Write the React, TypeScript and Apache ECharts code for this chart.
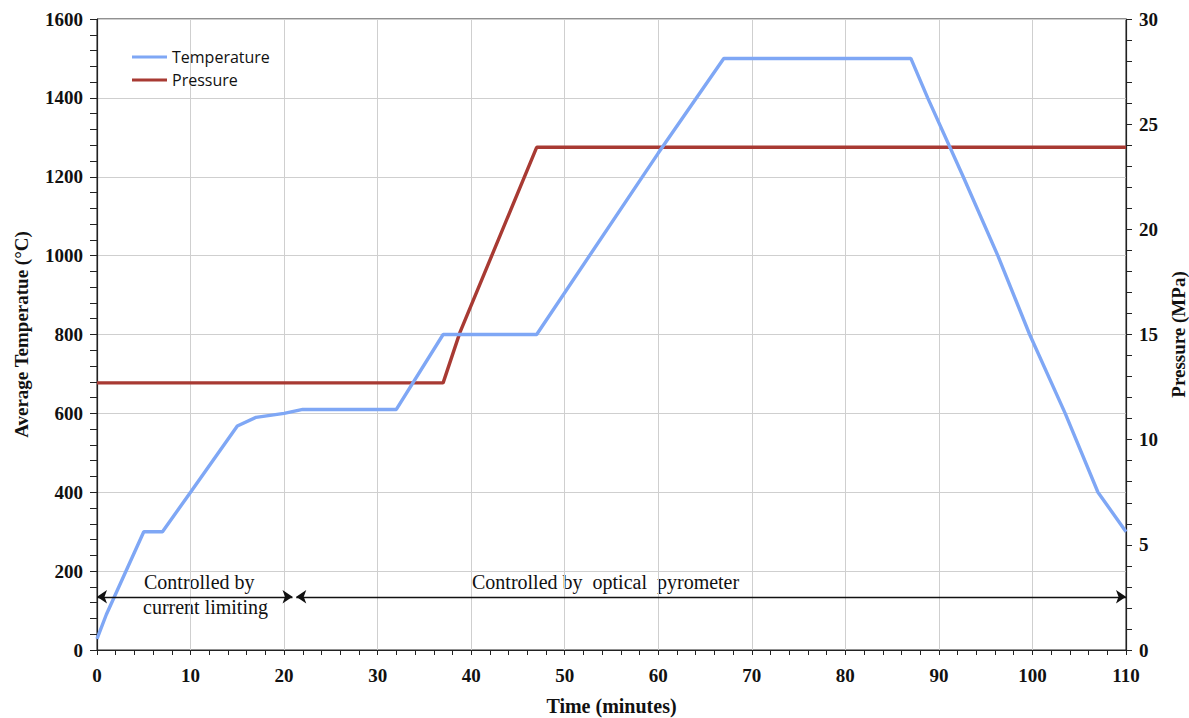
import React, { useEffect, useRef } from "react";
import * as echarts from "echarts";

// Temperature profile (minutes, °C)
const tempTime = [0, 1, 5, 7, 10, 15, 17, 20, 22, 32, 37, 47, 60, 67, 87, 88.8, 92.6, 96.3, 99.7, 103.5, 107, 110];
const tempValues = [28, 90, 300, 300, 400, 568, 590, 600, 610, 610, 800, 800, 1260, 1500, 1500, 1400, 1200, 1000, 800, 600, 400, 300];

// Pressure profile (minutes, MPa)
const pressureTime = [0, 37, 38.8, 47, 110];
const pressureValues = [12.7, 12.7, 15.1, 23.9, 23.9];

// Control-mode spans (minutes) drawn as arrows at this temperature level
const arrowLevel = 135;
const currentLimitingSpan = [0, 20.9];
const pyrometerSpan = [21.3, 110];

const seriesNames = ["Temperature", "Pressure"];
const annotationTexts = ["Controlled by", "current limiting", "Controlled by  optical  pyrometer"];

const SERIF = "'Liberation Serif', 'Times New Roman', serif";

export default function App() {
  const ref = useRef<HTMLDivElement>(null);
  useEffect(() => {
    document.body.style.margin = "0";
    const chart = echarts.init(ref.current!, null, { renderer: "svg" });
    const tickLabel = { fontFamily: SERIF, fontWeight: "bold", fontSize: 19, color: "#111" };
    const axisName = { fontFamily: SERIF, fontWeight: "bold", fontSize: 19, color: "#111" };
    chart.setOption({
      animation: false,
      backgroundColor: "#fff",
      grid: {
        left: 97,
        right: 63,
        top: 19,
        bottom: 68,
        show: true,
        borderColor: "#222",
        borderWidth: 1,
        containLabel: false,
        outerBoundsMode: "none",
      },
      legend: {
        left: 127,
        top: 44,
        orient: "vertical",
        icon: "rect",
        itemWidth: 35,
        itemHeight: 3,
        itemGap: 7,
        data: seriesNames,
        textStyle: { fontFamily: "'Open Sans', sans-serif", fontSize: 16, color: "#111", padding: [0, 0, 0, 0] },
      },
      xAxis: {
        type: "value",
        min: 0,
        max: 110,
        interval: 10,
        name: "Time (minutes)",
        nameLocation: "middle",
        nameGap: 46,
        nameTextStyle: { ...axisName, fontSize: 20 },
        axisLine: { show: true, onZero: false, lineStyle: { color: "#222", width: 1.2 } },
        axisTick: { show: true, inside: false, length: 5, lineStyle: { color: "#222" } },
        minorTick: { show: true, splitNumber: 5, length: 5, lineStyle: { color: "#222" } },
        axisLabel: { ...tickLabel, margin: 16 },
        splitLine: { show: true, lineStyle: { color: "#cfcfcf", width: 1 } },
      },
      yAxis: [
        {
          type: "value",
          min: 0,
          max: 1600,
          interval: 200,
          position: "left",
          name: "Average Temperatue (°C)",
          nameLocation: "middle",
          nameRotate: 90,
          nameGap: 66,
          nameTextStyle: axisName,
          axisLine: { show: true, onZero: false, lineStyle: { color: "#222", width: 1.2 } },
          axisTick: { show: true, length: 7, lineStyle: { color: "#222" } },
          minorTick: { show: true, splitNumber: 5, length: 7, lineStyle: { color: "#222" } },
          axisLabel: { ...tickLabel, margin: 14, formatter: (v: number) => String(v) },
          splitLine: { show: true, lineStyle: { color: "#cfcfcf", width: 1 } },
        },
        {
          type: "value",
          min: 0,
          max: 30,
          interval: 5,
          position: "right",
          name: "Pressure (MPa)",
          nameLocation: "middle",
          nameRotate: 90,
          nameGap: 43,
          nameTextStyle: axisName,
          axisLine: { show: true, onZero: false, lineStyle: { color: "#222", width: 1.2 } },
          axisTick: { show: true, length: 6, lineStyle: { color: "#222" } },
          minorTick: { show: true, splitNumber: 5, length: 6, lineStyle: { color: "#222" } },
          axisLabel: { ...tickLabel, margin: 13 },
          splitLine: { show: false },
        },
      ],
      series: [
        {
          name: seriesNames[0],
          type: "line",
          yAxisIndex: 0,
          symbol: "none",
          showSymbol: false,
          data: tempTime.map((t, i) => [t, tempValues[i]]),
          lineStyle: { color: "#7fa7f5", width: 3.4 },
          itemStyle: { color: "#7fa7f5" },
          z: 3,
          markLine: {
            silent: true,
            symbol: ["arrow", "arrow"],
            symbolSize: 10,
            label: { show: false },
            lineStyle: { color: "#111", width: 1.3, type: "solid" },
            data: [
              [{ coord: [currentLimitingSpan[0], arrowLevel] }, { coord: [currentLimitingSpan[1], arrowLevel] }],
              [{ coord: [pyrometerSpan[0], arrowLevel] }, { coord: [pyrometerSpan[1], arrowLevel] }],
            ],
          },
        },
        {
          name: seriesNames[1],
          type: "line",
          yAxisIndex: 1,
          symbol: "none",
          showSymbol: false,
          data: pressureTime.map((t, i) => [t, pressureValues[i]]),
          lineStyle: { color: "#a83a33", width: 3.4 },
          itemStyle: { color: "#a83a33" },
          z: 2,
        },
      ],
      graphic: [
        {
          type: "text",
          left: 144,
          top: 572,
          style: { text: annotationTexts[0], font: `20px ${SERIF}`, fill: "#111" },
        },
        {
          type: "text",
          left: 143,
          top: 597,
          style: { text: annotationTexts[1], font: `20px ${SERIF}`, fill: "#111" },
        },
        {
          type: "text",
          left: 472,
          top: 572,
          style: { text: annotationTexts[2], font: `20px ${SERIF}`, fill: "#111" },
        },
      ],
    });
    return () => chart.dispose();
  }, []);
  return (
    <div
      ref={ref}
      style={{ position: "fixed", left: 0, top: 0, width: 1189, height: 718, background: "#fff" }}
    />
  );
}
